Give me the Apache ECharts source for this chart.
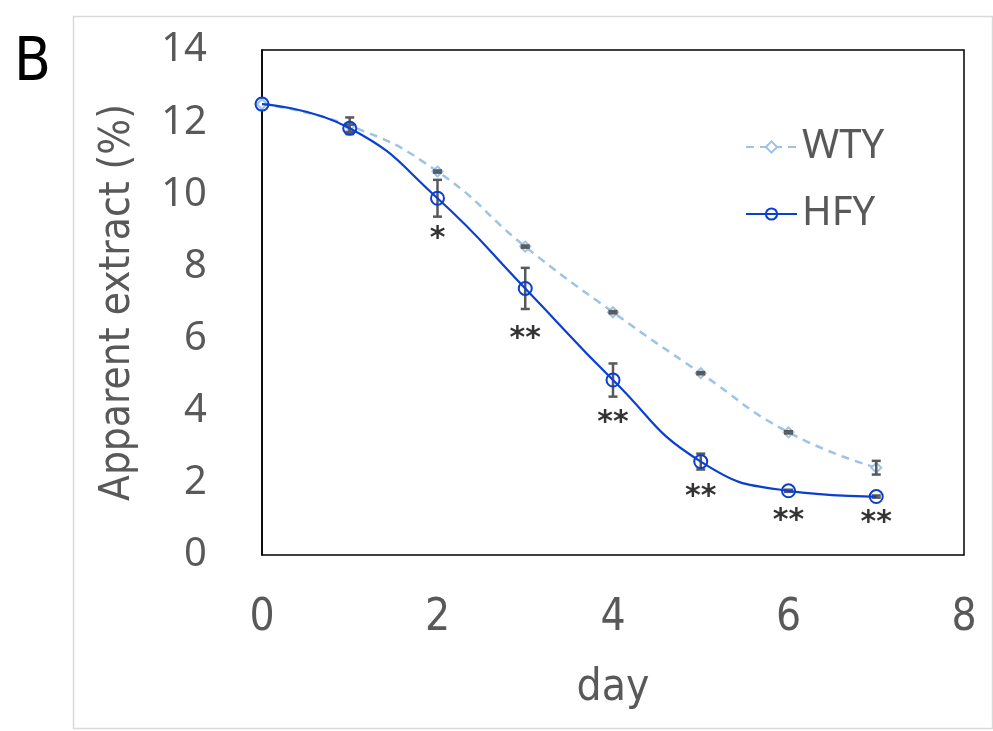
<!DOCTYPE html>
<html>
<head>
<meta charset="utf-8">
<script src="https://cdn.jsdelivr.net/npm/echarts@6/dist/echarts.min.js"></script>
<style>
html,body{margin:0;padding:0;background:#fff;}
#c{width:993px;height:731px;}
</style>
</head>
<body>
<div id="c"></div>
<script>
const days = [0, 1, 2, 3, 4, 5, 6, 7];
const wtyValues = [12.5, 11.9, 10.63, 8.55, 6.73, 5.04, 3.40, 2.42];
const wtyErr = [0, 0.23, 0.03, 0.03, 0.03, 0.03, 0.03, 0.19];
const hfyValues = [12.5, 11.83, 9.89, 7.39, 4.85, 2.59, 1.78, 1.62];
const hfyErr = [0, 0.1, 0.51, 0.57, 0.46, 0.22, 0.03, 0.03];
const sigDays = [2, 3, 4, 5, 6, 7];
const sigText = ['*', '**', '**', '**', '**', '**'];
const sigY = [8.75, 5.98, 3.65, 1.6, 0.93, 0.88];
const xTicks = [0, 2, 4, 6, 8];
const yTicks = [0, 2, 4, 6, 8, 10, 12, 14];

const GRAY = '#595959';
const NARROW = '"DejaVu Sans Condensed", "Liberation Sans Narrow", "Open Sans", sans-serif';
const WIDE = '"Noto Sans", "Open Sans", sans-serif';

function errData(vals, errs) {
  return days.map((d, i) => [d, vals[i] - errs[i], vals[i] + errs[i]]);
}
function renderErr(params, api) {
  const x = api.value(0);
  const lo = api.coord([x, api.value(1)]);
  const hi = api.coord([x, api.value(2)]);
  if (Math.abs(lo[1] - hi[1]) < 0.5) return null;
  const w = 4.5;
  const style = { stroke: GRAY, lineWidth: 2.5 };
  return {
    type: 'group',
    children: [
      { type: 'line', shape: { x1: lo[0], y1: lo[1], x2: hi[0], y2: hi[1] }, style },
      { type: 'line', shape: { x1: lo[0] - w, y1: lo[1], x2: lo[0] + w, y2: lo[1] }, style },
      { type: 'line', shape: { x1: hi[0] - w, y1: hi[1], x2: hi[0] + w, y2: hi[1] }, style }
    ]
  };
}

const chart = echarts.init(document.getElementById('c'), null, { renderer: 'canvas' });
chart.setOption({
  backgroundColor: '#fff',
  animation: false,
  graphic: [
    { type: 'rect', left: 71, top: 14, shape: { width: 919, height: 712 },
      style: { fill: 'none', stroke: '#d9d9d9', lineWidth: 1.5 }, z: -1 },
    { type: 'text', left: 14, top: 34,
      style: { text: 'B', font: '60px ' + NARROW, fill: '#000' } }
  ],
  grid: { left: 262, right: 29, top: 50, bottom: 176, show: true, borderColor: '#000', borderWidth: 1.5, backgroundColor: 'transparent' },
  legend: {
    orient: 'vertical', left: 740, top: 122, itemWidth: 51, itemHeight: 14, itemGap: 27,
    textStyle: { color: GRAY, fontSize: 40, fontFamily: WIDE, lineHeight: 40, padding: [0, 0, 0, 0] },
    data: ['WTY', 'HFY']
  },
  xAxis: {
    type: 'value', min: xTicks[0], max: xTicks[xTicks.length - 1], interval: 2,
    name: 'day', nameLocation: 'middle', nameGap: 112,
    nameTextStyle: { color: GRAY, fontSize: 44, fontFamily: NARROW },
    axisLine: { show: false }, axisTick: { show: false }, splitLine: { show: false },
    axisLabel: { color: GRAY, fontSize: 44, fontFamily: NARROW, margin: 42 }
  },
  yAxis: {
    type: 'value', min: yTicks[0], max: yTicks[yTicks.length - 1], interval: 2,
    name: 'Apparent extract (%)', nameLocation: 'middle', nameGap: 123, nameRotate: 90,
    nameTextStyle: { color: GRAY, fontSize: 42, fontFamily: NARROW },
    axisLine: { show: true, lineStyle: { color: '#000', width: 1.5 } }, axisTick: { show: false }, splitLine: { show: false },
    axisLabel: { color: GRAY, fontSize: 40, fontFamily: WIDE, margin: 55 }
  },
  series: [
    {
      name: 'WTY', type: 'line', smooth: true,
      data: days.map((d, i) => [d, wtyValues[i]]),
      symbol: 'diamond', symbolSize: 10, showAllSymbol: true,
      lineStyle: { color: '#9dc3e6', width: 2.5, type: [8, 6] },
      itemStyle: { color: '#fff', borderColor: '#9dc3e6', borderWidth: 2 },
      z: 2
    },
    {
      name: 'WTYerr', type: 'custom', renderItem: renderErr,
      data: errData(wtyValues, wtyErr), encode: { x: 0, y: [1, 2] }, z: 3
    },
    {
      name: 'HFYerr', type: 'custom', renderItem: renderErr,
      data: errData(hfyValues, hfyErr), encode: { x: 0, y: [1, 2] }, z: 3
    },
    {
      name: 'HFY', type: 'line', smooth: true,
      data: days.map((d, i) => [d, hfyValues[i]]),
      symbol: 'circle', symbolSize: 13, showAllSymbol: true,
      lineStyle: { color: '#0a3fd0', width: 2.2 },
      itemStyle: { color: 'rgba(255,255,255,0)', borderColor: '#0a3fd0', borderWidth: 2 },
      z: 4
    },
    {
      name: 'sig', type: 'scatter', symbolSize: 1,
      itemStyle: { color: 'rgba(0,0,0,0)' },
      data: sigDays.map((d, i) => [d, sigY[i]]),
      label: {
        show: true, position: 'inside', color: '#000', fontSize: 30, fontWeight: 'bold',
        fontFamily: '"DejaVu Sans", sans-serif',
        formatter: p => sigText[p.dataIndex]
      },
      z: 5
    }
  ]
});
</script>
</body>
</html>
